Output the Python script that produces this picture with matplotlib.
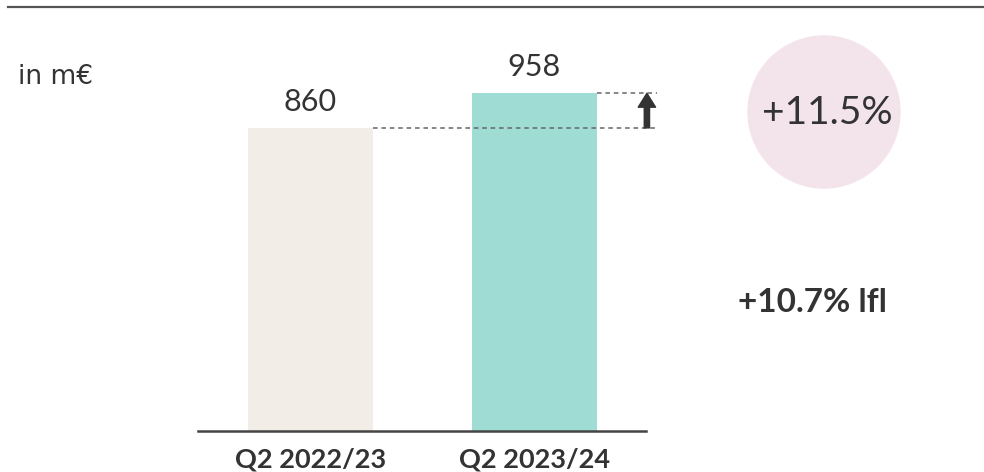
import matplotlib
matplotlib.use("Agg")
import matplotlib.pyplot as plt
from matplotlib.patches import Ellipse
from matplotlib.lines import Line2D

categories = ["Q2 2022/23", "Q2 2023/24"]
values = [860, 958]
bar_colors = ["#f2ede6", "#9fddd4"]
unit_label = "in m€"
growth_label = "+11.5%"
lfl_label = "+10.7% lfl"

plt.rcParams['font.family'] = ['Lato', 'DejaVu Sans']
TXT = "#333333"

W, H = 984, 472
fig = plt.figure(figsize=(W / 100, H / 100), dpi=100)

# axes: x 198..646 px, baseline y=431 px, top y=8 px
ax = fig.add_axes([198 / W, (H - 431) / H, (646 - 198) / W, (431 - 8) / H])
ax.set_xlim(-0.502, 1.498)
ax.set_ylim(0, 1200)
x = list(range(len(categories)))
bw = 125 / 224
ax.bar(x, values, width=bw, color=bar_colors, zorder=2)
for xi, v in zip(x, values):
    ax.text(xi, v + 35, f"{v}", ha="center", va="bottom", fontsize=22, color=TXT)

for s in ["top", "right", "left"]:
    ax.spines[s].set_visible(False)
ax.spines["bottom"].set_color("#444444")
ax.spines["bottom"].set_linewidth(1.8)
ax.set_yticks([])
ax.set_xticks(x)
ax.set_xticklabels(categories, fontsize=19.5, fontweight="bold", color=TXT)
ax.tick_params(axis="x", length=0, pad=12)

# dashed reference lines
x_end = 1.547
ax.plot([bw / 2, x_end], [values[0], values[0]], ls=(0, (3, 2.5)), color="#666666",
        lw=1.1, clip_on=False, zorder=3)
ax.plot([1 + bw / 2, x_end], [values[1], values[1]], ls=(0, (3, 2.5)), color="#666666",
        lw=1.1, clip_on=False, zorder=3)
ax.annotate("", xy=(1.502, values[1]), xytext=(1.502, values[0]),
            arrowprops=dict(width=3.8, headwidth=12.5, headlength=10, color="#333333",
                            shrink=0),
            annotation_clip=False, zorder=4)

# top rule
fig.add_artist(Line2D([8 / W, 1.0], [(H - 7) / H, (H - 7) / H], color="#555555", lw=1.6))

# unit label
fig.text(18 / W, (H - 77) / H, unit_label, fontsize=19, color=TXT, va="center", ha="left",
         family=["DejaVu Sans"])

# circle
fig.add_artist(Ellipse((824 / W, (H - 112) / H), 152 / W, 152 / H, color="#f3e4ec",
                       transform=fig.transFigure))
fig.text(827 / W, (H - 113) / H, growth_label, fontsize=28, color=TXT, ha="center", va="center")

fig.text(812 / W, (H - 302) / H, lfl_label, fontsize=24, fontweight="bold", color=TXT,
         ha="center", va="center")

fig.savefig("out.png", dpi=100, facecolor="white")
